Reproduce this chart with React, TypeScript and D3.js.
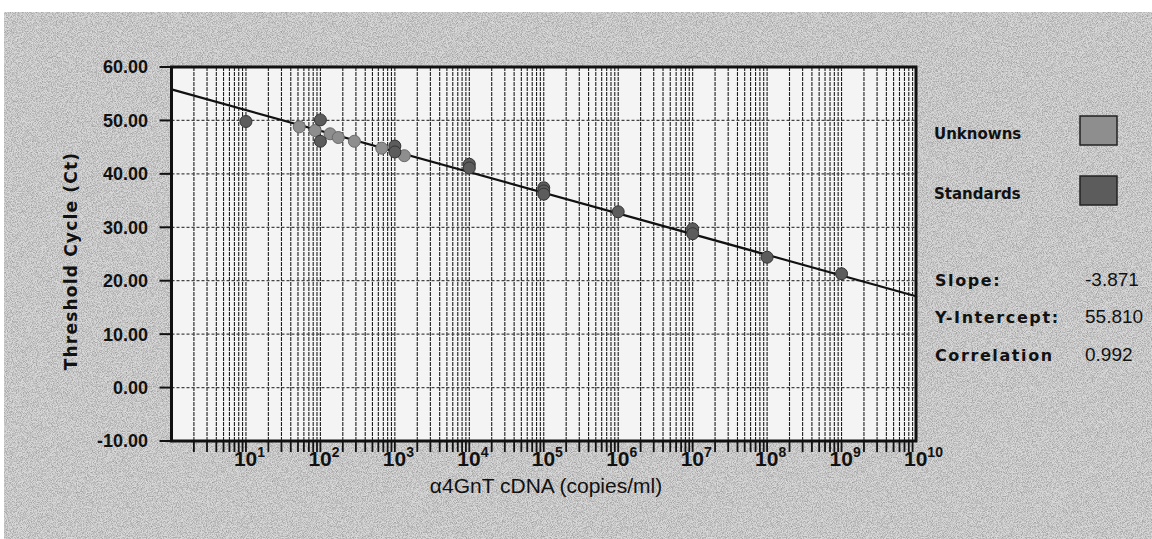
import React, { useEffect, useRef } from 'react';
import * as d3 from 'd3';

// Standard curve (dark dots)
const standardConc = [10, 100, 100, 1000, 1000, 1e4, 1e4, 1e5, 1e5, 1e5, 1e6, 1e7, 1e7, 1e8, 1e9];
const standardCt = [49.8, 50.1, 46.1, 45.2, 44.1, 41.8, 41.1, 37.4, 36.8, 36.2, 32.9, 29.7, 28.8, 24.4, 21.3];

// Unknown samples (light dots)
const unknownConc = [52, 85, 135, 174, 286, 666, 1340];
const unknownCt = [48.8, 48.1, 47.5, 46.8, 46.1, 44.8, 43.4];

const yTicks = [60, 50, 40, 30, 20, 10, 0, -10];
const decadeExponents = [1, 2, 3, 4, 5, 6, 7, 8, 9, 10];

const legendLabels = ['Unknowns', 'Standards'];
const legendColors = ['#8e8e8e', '#5c5c5c'];

const statLabels = ['Slope:', 'Y-Intercept:', 'Correlation'];
const statValues = [-3.871, 55.81, 0.992];

const App = () => {
  const svgRef = useRef<SVGSVGElement>(null);

  useEffect(() => {
    if (!svgRef.current) return;
    const svg = d3.select(svgRef.current);
    svg.selectAll('*').remove();

    const width = 1152;
    const height = 539;
    const plot = { left: 171.5, right: 916, top: 67, bottom: 441 };

    // grain filter to imitate the scanned page
    const defs = svg.append('defs');
    const f = defs.append('filter').attr('id', 'grain').attr('x', 0).attr('y', 0).attr('width', 1).attr('height', 1);
    f.append('feTurbulence')
      .attr('type', 'fractalNoise')
      .attr('baseFrequency', 1.2)
      .attr('numOctaves', 1)
      .attr('seed', 3);
    f.append('feColorMatrix')
      .attr('type', 'matrix')
      .attr('values', '0 0 0 0 0  0 0 0 0 0  0 0 0 0 0  0 0 0 -2.2 1.4');

    // background
    svg.append('rect').attr('width', width).attr('height', height).attr('fill', '#ffffff');
    svg.append('rect')
      .attr('x', 4).attr('y', 12)
      .attr('width', width - 4).attr('height', height - 12)
      .attr('fill', '#dadada');
    svg.append('rect')
      .attr('x', 4).attr('y', 12)
      .attr('width', width - 4).attr('height', height - 12)
      .attr('filter', 'url(#grain)')
      .attr('opacity', 0.3);

    const x = d3.scaleLog().domain([1, 1e10]).range([plot.left, plot.right]);
    const y = d3.scaleLinear().domain([-10, 60]).range([plot.bottom, plot.top]);

    // plot area
    svg.append('rect')
      .attr('x', plot.left).attr('y', plot.top)
      .attr('width', plot.right - plot.left).attr('height', plot.bottom - plot.top)
      .attr('fill', '#f4f4f4');

    // every log tick 1..9 per decade
    const logTicks: number[] = [];
    for (let e = 0; e < 10; e++) {
      for (let m = 1; m <= 9; m++) {
        const v = m * Math.pow(10, e);
        if (v > 1) logTicks.push(v);
      }
    }

    // vertical grid
    svg.append('g')
      .selectAll('line')
      .data(logTicks.filter(d => d < 1e10))
      .enter()
      .append('line')
      .attr('x1', d => x(d)).attr('x2', d => x(d))
      .attr('y1', plot.top).attr('y2', plot.bottom)
      .attr('stroke', '#1e1e1e')
      .attr('stroke-width', 1.1)
      .attr('stroke-dasharray', '4,1');

    // horizontal grid
    svg.append('g')
      .selectAll('line')
      .data(yTicks.filter(d => d > -10 && d < 60))
      .enter()
      .append('line')
      .attr('x1', plot.left).attr('x2', plot.right)
      .attr('y1', d => y(d)).attr('y2', d => y(d))
      .attr('stroke', '#444')
      .attr('stroke-width', 1.2)
      .attr('stroke-dasharray', '3,2');

    // frame
    svg.append('rect')
      .attr('x', plot.left).attr('y', plot.top)
      .attr('width', plot.right - plot.left).attr('height', plot.bottom - plot.top)
      .attr('fill', 'none')
      .attr('stroke', '#111')
      .attr('stroke-width', 3);

    // y ticks + labels
    svg.append('g')
      .selectAll('line')
      .data(yTicks)
      .enter()
      .append('line')
      .attr('x1', plot.left - 12).attr('x2', plot.left)
      .attr('y1', d => y(d)).attr('y2', d => y(d))
      .attr('stroke', '#111')
      .attr('stroke-width', 2);

    svg.append('g')
      .selectAll('text')
      .data(yTicks)
      .enter()
      .append('text')
      .attr('x', 148)
      .attr('y', d => y(d))
      .attr('dy', '0.36em')
      .attr('text-anchor', 'end')
      .style('font-family', '"Liberation Sans", Arial, sans-serif')
      .style('font-weight', 'bold')
      .style('font-size', '18px')
      .style('fill', '#111')
      .text(d => d3.format('.2f')(d).replace('−', '-'));

    // x ticks
    svg.append('g')
      .selectAll('line')
      .data(logTicks)
      .enter()
      .append('line')
      .attr('x1', d => x(d)).attr('x2', d => x(d))
      .attr('y1', plot.bottom).attr('y2', plot.bottom + 11)
      .attr('stroke', '#111')
      .attr('stroke-width', 1.8);

    // x decade labels 10^n
    const xl = svg.append('g')
      .selectAll('text')
      .data(decadeExponents)
      .enter()
      .append('text')
      .attr('x', d => x(Math.pow(10, d)) - 12)
      .attr('y', 466)
      .style('font-family', '"Liberation Sans", Arial, sans-serif')
      .style('font-weight', 'bold')
      .style('font-size', '21px')
      .style('fill', '#111');
    xl.append('tspan').text('10');
    xl.append('tspan')
      .attr('dy', -9)
      .style('font-size', '14px')
      .text(d => String(d));

    // axis titles
    svg.append('text')
      .attr('x', 546).attr('y', 493)
      .attr('text-anchor', 'middle')
      .style('font-family', '"Liberation Sans", Arial, sans-serif')
      .style('font-size', '21px')
      .style('fill', '#111')
      .text('α4GnT cDNA (copies/ml)');

    svg.append('text')
      .attr('transform', 'translate(77,261) rotate(-90)')
      .attr('text-anchor', 'middle')
      .style('font-family', '"DejaVu Sans", sans-serif')
      .style('font-weight', 'bold')
      .style('font-size', '17px')
      .style('letter-spacing', '1.2px')
      .style('fill', '#111')
      .text('Threshold Cycle (Ct)');

    // regression line
    const slope = statValues[0];
    const intercept = statValues[1];
    const fitLine = d3.line<number>()
      .x(d => x(d))
      .y(d => y(slope * Math.log10(d) + intercept));
    svg.append('path')
      .datum([1, 1e10])
      .attr('d', fitLine)
      .attr('fill', 'none')
      .attr('stroke', '#111')
      .attr('stroke-width', 2.2);

    // points
    const unknowns = unknownConc.map((c, i) => ({ c, ct: unknownCt[i] }));
    const standards = standardConc.map((c, i) => ({ c, ct: standardCt[i] }));

    svg.append('g')
      .selectAll('circle')
      .data(unknowns)
      .enter()
      .append('circle')
      .attr('cx', d => x(d.c))
      .attr('cy', d => y(d.ct))
      .attr('r', 6)
      .attr('fill', legendColors[0])
      .attr('stroke', '#6a6a6a')
      .attr('stroke-width', 1);

    svg.append('g')
      .selectAll('circle')
      .data(standards)
      .enter()
      .append('circle')
      .attr('cx', d => x(d.c))
      .attr('cy', d => y(d.ct))
      .attr('r', 6)
      .attr('fill', legendColors[1])
      .attr('stroke', '#333')
      .attr('stroke-width', 1);

    // legend
    const legendY = [139, 199];
    legendLabels.forEach((label, i) => {
      svg.append('text')
        .attr('x', 934).attr('y', legendY[i])
        .style('font-family', '"DejaVu Sans", sans-serif')
        .style('font-weight', 'bold')
        .style('font-size', '15px')
        .style('fill', '#111')
        .text(label);
      svg.append('rect')
        .attr('x', 1080).attr('y', legendY[i] - 23)
        .attr('width', 37).attr('height', 29)
        .attr('fill', legendColors[i])
        .attr('stroke', '#222')
        .attr('stroke-width', 1.5);
    });

    // fit statistics
    const statY = [286, 323, 361];
    statLabels.forEach((label, i) => {
      svg.append('text')
        .attr('x', 935).attr('y', statY[i])
        .style('font-family', '"DejaVu Sans", sans-serif')
        .style('font-weight', 'bold')
        .style('font-size', '16px')
        .style('letter-spacing', '1.6px')
        .style('fill', '#111')
        .text(label);
      svg.append('text')
        .attr('x', 1085).attr('y', statY[i])
        .style('font-family', '"Liberation Sans", Arial, sans-serif')
        .style('font-size', '19px')
        .style('fill', '#111')
        .text(d3.format('.3f')(statValues[i]).replace('−', '-'));
    });
  }, []);

  return (
    <svg
      ref={svgRef}
      width={1152}
      height={539}
      style={{ position: 'absolute', left: 0, top: 0, display: 'block' }}
    />
  );
};

export default App;
